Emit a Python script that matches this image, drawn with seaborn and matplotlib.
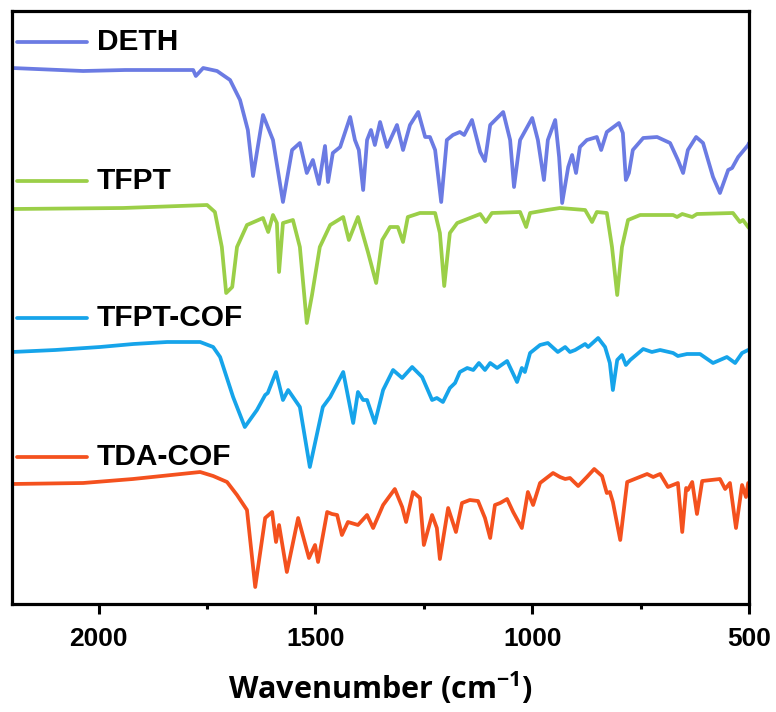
import numpy as np
import pandas as pd
import matplotlib
matplotlib.use("Agg")
import matplotlib.pyplot as plt
import seaborn as sns

# ---------------- data ----------------
series_names = ["DETH", "TFPT", "TFPT-COF", "TDA-COF"]
colors = ["#6B7BE3", "#9BCF48", "#16A4EA", "#F4511E"]

deth_wn = [2200, 2036, 1939, 1782, 1776, 1759, 1727, 1697, 1674, 1656, 1644, 1621, 1598, 1575,
           1554, 1536, 1520, 1506, 1492, 1478, 1471, 1460, 1443, 1420, 1409, 1400, 1390, 1381,
           1372, 1363, 1351, 1335, 1312, 1298, 1282, 1263, 1247, 1236, 1224, 1210, 1197, 1183,
           1167, 1157, 1139, 1120, 1109, 1097, 1067, 1051, 1042, 1028, 1000, 987, 973, 964, 947,
           938, 931, 917, 908, 899, 890, 874, 851, 841, 828, 800, 791, 784, 777, 768, 744, 712,
           682, 664, 652, 641, 622, 606, 583, 567, 548, 539, 525, 502, 500]
deth_val = [0, -3, -2, -2, -8, 0, -3, -12, -32, -62, -108, -47, -72, -134,
            -82, -75, -105, -92, -116, -78, -114, -85, -79, -49, -72, -82, -122, -72,
            -62, -77, -54, -79, -57, -82, -57, -44, -69, -69, -82, -134, -72, -67,
            -64, -67, -52, -84, -93, -57, -44, -72, -119, -72, -50, -72, -112, -72, -52,
            -89, -135, -99, -87, -105, -79, -72, -69, -82, -64, -55, -65, -112, -105, -82, -70, -69,
            -75, -92, -105, -82, -69, -75, -109, -125, -102, -100, -89, -77, -75]

tfpt_wn = [2200, 1944, 1750, 1732, 1716, 1706, 1692, 1681, 1658, 1621, 1609, 1598, 1589, 1584,
           1575, 1552, 1536, 1520, 1508, 1490, 1466, 1436, 1423, 1402, 1379, 1360, 1346, 1328,
           1310, 1298, 1287, 1259, 1224, 1213, 1203, 1190, 1173, 1120, 1107, 1093, 1028, 1014,
           1005, 966, 936, 878, 862, 851, 828, 816, 804, 793, 779, 751, 675, 666, 654, 631, 620,
           537, 521, 514, 502, 500]
tfpt_val = [0, 1, 4, -3, -38, -84, -78, -38, -16, -9, -23, -6, -14, -63,
            -14, -11, -38, -114, -86, -38, -16, -8, -31, -8, -43, -74, -31, -18,
            -18, -33, -8, -4, -4, -24, -77, -24, -14, -5, -13, -4, -3, -18,
            -4, -1, 1, -1, -13, -3, -4, -38, -86, -38, -11, -6, -6, -8, -5, -8, -5,
            -4, -13, -11, -18, -19]

tfptcof_wn = [2200, 2100, 1997, 1920, 1842, 1766, 1736, 1720, 1690, 1663, 1635, 1616, 1610, 1591,
              1575, 1563, 1536, 1513, 1483, 1466, 1436, 1413, 1402, 1390, 1381, 1363, 1344, 1321,
              1300, 1277, 1254, 1231, 1220, 1206, 1190, 1178, 1167, 1150, 1136, 1123, 1109, 1097,
              1081, 1058, 1035, 1024, 1017, 1005, 982, 964, 941, 924, 913, 901, 878, 871, 848, 832,
              821, 814, 804, 793, 784, 774, 744, 724, 705, 675, 664, 643, 613, 583, 551, 532, 516,
              502, 500]
tfptcof_val = [0, 2, 5, 8, 10, 10, 5, -5, -45, -75, -58, -43, -41, -20,
               -48, -38, -55, -115, -55, -45, -20, -71, -40, -48, -48, -71, -38, -18,
               -26, -15, -25, -48, -46, -50, -36, -31, -20, -16, -18, -11, -18, -11,
               -16, -9, -30, -16, -20, -1, 7, 9, 0, 5, 0, 2, 8, 5, 14, 5,
               -11, -38, -8, -3, -13, -8, 3, 0, 2, -1, -4, -2, -2, -11, -5, -11, -1,
               2, 2]

tdacof_wn = [2200, 2036, 1921, 1766, 1736, 1704, 1681, 1658, 1639, 1616, 1600, 1591, 1584, 1566,
             1540, 1515, 1501, 1494, 1473, 1462, 1450, 1439, 1425, 1402, 1381, 1367, 1344, 1317,
             1300, 1291, 1275, 1259, 1250, 1231, 1220, 1213, 1194, 1176, 1162, 1144, 1125, 1109,
             1097, 1086, 1074, 1058, 1044, 1024, 1010, 998, 982, 952, 936, 924, 913, 894, 874,
             857, 839, 828, 821, 814, 797, 781, 758, 735, 721, 705, 687, 664, 654, 645, 641, 631,
             620, 608, 567, 555, 544, 530, 516, 507, 502, 500]
tdacof_val = [0, 1, 5, 12, 8, 2, -11, -26, -103, -34, -28, -58, -41, -88,
              -34, -74, -61, -78, -28, -30, -31, -51, -38, -41, -31, -44, -21, -5,
              -23, -38, -8, -14, -61, -31, -44, -75, -24, -48, -19, -16, -17, -34,
              -54, -21, -19, -15, -28, -44, -8, -21, 1, 11, 7, 5, 6, -2, 7,
              15, 8, -9, -8, -18, -56, 2, 6, 10, 7, 10, -3, 1, -48, -4, -6, 2,
              -30, 3, 5, -5, 1, -44, -1, -13, 1, 1]

# vertical stacking offsets (a.u.)
offsets = [536, 395, 252, 120]

x_ticks = [2000, 1500, 1000, 500]
x_minor = [1750, 1250, 750]

# ---------------- build long table ----------------
frames = []
for name, wn, val, off in zip(series_names,
                              [deth_wn, tfpt_wn, tfptcof_wn, tdacof_wn],
                              [deth_val, tfpt_val, tfptcof_val, tdacof_val],
                              offsets):
    frames.append(pd.DataFrame({"wn": wn, "y": np.array(val, float) + off, "series": name}))
df = pd.concat(frames, ignore_index=True)

# ---------------- style ----------------
sns.set_theme(style="ticks")
plt.rcParams["font.family"] = ["Liberation Sans", "DejaVu Sans"]
plt.rcParams["text.color"] = "black"
plt.rcParams["axes.labelcolor"] = "black"
plt.rcParams["xtick.color"] = "black"
plt.rcParams["mathtext.fontset"] = "custom"
plt.rcParams["mathtext.bf"] = "Open Sans:bold"
plt.rcParams["mathtext.rm"] = "Open Sans:bold"

fig = plt.figure(figsize=(7.76, 7.12), dpi=100)
ax = fig.add_axes([12 / 776, 1 - 604 / 712, 737 / 776, 593 / 712])

sns.lineplot(data=df, x="wn", y="y", hue="series", hue_order=series_names,
             palette=dict(zip(series_names, colors)), estimator=None, sort=False,
             linewidth=2.7, legend=False, ax=ax)
for ln in ax.get_lines():
    ln.set_solid_joinstyle("round")
    ln.set_solid_capstyle("round")

ax.set_xlim(2200, 500)
ax.set_ylim(0, 593)
ax.set_yticks([])
ax.set_xticks(x_ticks)
ax.set_xticks(x_minor, minor=True)
ax.set_xticklabels([str(t) for t in x_ticks], fontsize=19, fontweight="bold", color="black")
ax.tick_params(axis="x", which="major", length=7.2, width=2.2, direction="out", pad=9,
               color="black", labelcolor="black")
ax.tick_params(axis="x", which="minor", length=3.6, width=2.2, direction="out", color="black")
ax.set_ylabel("")
for s in ax.spines.values():
    s.set_linewidth(2.3)
    s.set_color("black")

ax.set_xlabel(r"Wavenumber (cm$^{\mathbf{-1}}$)", fontsize=22, fontweight="bold",
              family=["Open Sans", "DejaVu Sans"], labelpad=14, color="black")

# manual legend-like labels
leg_y = [0.948, 0.713, 0.482, 0.248]
for name, col, yy in zip(series_names, colors, leg_y):
    ax.plot([0.007, 0.102], [yy, yy], transform=ax.transAxes, color=col, lw=2.7,
            solid_capstyle="round")
    ax.text(0.115, yy, name, transform=ax.transAxes, fontsize=21.5, fontweight="bold",
            va="center", ha="left", color="black")

fig.savefig("out.png", dpi=100)
